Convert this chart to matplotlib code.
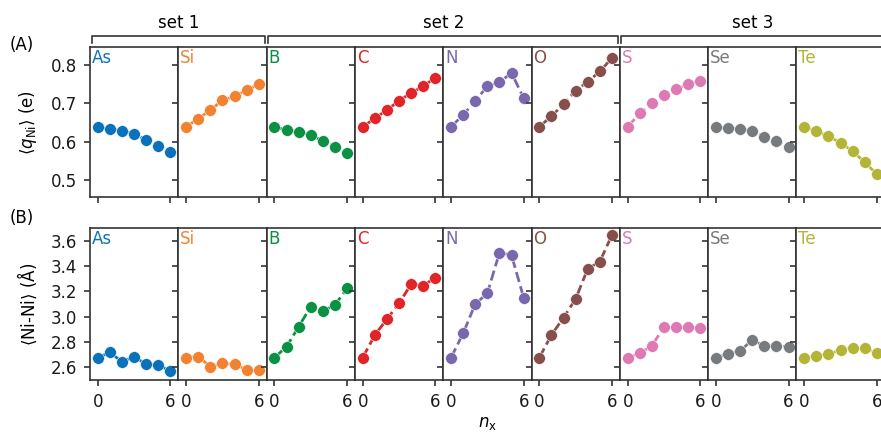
import numpy as np
import matplotlib
matplotlib.use('Agg')
import matplotlib.pyplot as plt
from matplotlib.lines import Line2D

elements = ['As', 'Si', 'B', 'C', 'N', 'O', 'S', 'Se', 'Te']
colors = ['#0a72ba', '#f28130', '#0c9144', '#e02427', '#7a68ae',
          '#874f4b', '#dd7ab4', '#777b7e', '#b4b436']
n_x = [0, 1, 2, 3, 4, 5, 6]

# (A) average Ni charge
q_As = [0.639, 0.633, 0.628, 0.621, 0.604, 0.589, 0.572]
q_Si = [0.639, 0.660, 0.683, 0.708, 0.719, 0.735, 0.750]
q_B = [0.639, 0.630, 0.626, 0.617, 0.602, 0.586, 0.570]
q_C = [0.639, 0.661, 0.683, 0.707, 0.728, 0.745, 0.768]
q_N = [0.639, 0.670, 0.707, 0.745, 0.756, 0.780, 0.714]
q_O = [0.639, 0.667, 0.698, 0.734, 0.757, 0.784, 0.819]
q_S = [0.639, 0.674, 0.701, 0.722, 0.738, 0.750, 0.760]
q_Se = [0.638, 0.636, 0.634, 0.628, 0.613, 0.601, 0.585]
q_Te = [0.639, 0.628, 0.614, 0.597, 0.575, 0.546, 0.515]

# (B) average Ni-Ni distance
d_As = [2.677, 2.719, 2.643, 2.684, 2.624, 2.621, 2.568]
d_Si = [2.677, 2.684, 2.606, 2.632, 2.624, 2.580, 2.576]
d_B = [2.677, 2.763, 2.921, 3.079, 3.045, 3.092, 3.224]
d_C = [2.677, 2.856, 2.980, 3.106, 3.256, 3.245, 3.308]
d_N = [2.677, 2.869, 3.100, 3.185, 3.505, 3.485, 3.150]
d_O = [2.677, 2.856, 2.992, 3.140, 3.379, 3.434, 3.645]
d_S = [2.677, 2.711, 2.769, 2.919, 2.921, 2.916, 2.913]
d_Se = [2.677, 2.706, 2.730, 2.816, 2.769, 2.769, 2.763]
d_Te = [2.677, 2.692, 2.703, 2.737, 2.755, 2.750, 2.711]

q_data = [q_As, q_Si, q_B, q_C, q_N, q_O, q_S, q_Se, q_Te]
d_data = [d_As, d_Si, d_B, d_C, d_N, d_O, d_S, d_Se, d_Te]

set_names = ['set 1', 'set 2', 'set 3']
set_spans = [(0, 2), (2, 6), (6, 9)]

plt.rcParams['font.size'] = 12
plt.rcParams['axes.edgecolor'] = '0.2'
plt.rcParams['xtick.color'] = '0.2'
plt.rcParams['ytick.color'] = '0.2'
plt.rcParams['xtick.labelcolor'] = '0.1'
plt.rcParams['ytick.labelcolor'] = '0.1'

W, H = 881, 432
fig = plt.figure(figsize=(W / 100, H / 100), dpi=100)

left_px = 90
pw = 88.3
rows = [(47, 197, q_data, (0.455, 0.848), [0.5, 0.6, 0.7, 0.8], r'$\langle q_{\mathrm{Ni}}\rangle$ (e)'),
        (228, 380, d_data, (2.5, 3.7), [2.6, 2.8, 3.0, 3.2, 3.4, 3.6], r'$\langle$Ni-Ni$\rangle$ (Å)')]

for r, (top, bot, data, ylim, yticks, ylab) in enumerate(rows):
    for i, el in enumerate(elements):
        ax = fig.add_axes([(left_px + i * pw) / W, 1 - bot / H, pw / W, (bot - top) / H])
        ax.plot(n_x, data[i], '--o', color=colors[i], lw=2, ms=8.5,
                mec='white', mew=0.4, clip_on=False if i < 8 else True)
        ax.set_xlim(-0.65, 6.65)
        ax.set_ylim(*ylim)
        ax.set_xticks([0, 6])
        ax.set_yticks(yticks)
        for s in ax.spines.values():
            s.set_linewidth(1.2)
        ax.tick_params(width=1.2, length=4.5, pad=5, labelsize=12)
        ax.text(0.02, 0.985, el, color=colors[i], transform=ax.transAxes,
                ha='left', va='top', fontsize=12)
        if r == 0:
            ax.set_xticklabels([])
        if i == 0:
            ax.set_ylabel(ylab, fontsize=12, labelpad=8)
        else:
            ax.set_yticklabels([])

fig.text(10 / W, 1 - 45 / H, '(A)', fontsize=12, ha='left', va='center')
fig.text(10 / W, 1 - 218 / H, '(B)', fontsize=12, ha='left', va='center')
fig.text((left_px + 4.5 * pw) / W, 1 - 423 / H, r'$n_{\mathrm{x}}$', fontsize=12,
         ha='center', va='center')

# brackets for the sets
y_line = 1 - 36 / H
y_end = 1 - 43 / H
for name, (a, b) in zip(set_names, set_spans):
    x0 = (left_px + a * pw + 1.5) / W
    x1 = (left_px + b * pw - 1.5) / W
    fig.add_artist(Line2D([x0, x0, x1, x1], [y_end, y_line, y_line, y_end],
                          color='0.2', lw=1.2, transform=fig.transFigure))
    fig.text((x0 + x1) / 2, 1 - 23 / H, name, fontsize=12, ha='center', va='center')

fig.savefig('out.png', dpi=100)
